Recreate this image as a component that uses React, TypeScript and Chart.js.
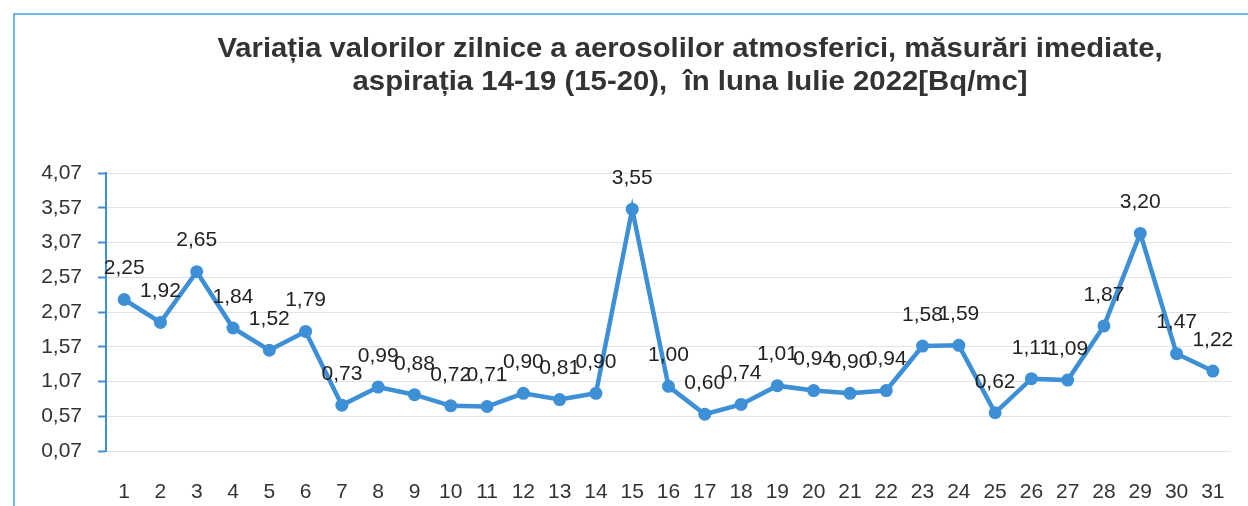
import React, { useEffect, useRef } from "react";
import { Chart, registerables } from "chart.js";

Chart.register(...registerables);

const titleLines = [
  "Variația valorilor zilnice a aerosolilor atmosferici, măsurări imediate,",
  "aspirația 14-19 (15-20),  în luna Iulie 2022[Bq/mc]",
];
const days = Array.from({ length: 31 }, (_, i) => String(i + 1));
const values = [
  2.25, 1.92, 2.65, 1.84, 1.52, 1.79, 0.73, 0.99, 0.88, 0.72, 0.71, 0.9, 0.81, 0.9, 3.55, 1.0,
  0.6, 0.74, 1.01, 0.94, 0.9, 0.94, 1.58, 1.59, 0.62, 1.11, 1.09, 1.87, 3.2, 1.47, 1.22,
];
const yMin = 0.07;
const yMax = 4.07;
const yStep = 0.5;

const fmt = (v: number) => v.toFixed(2).replace(".", ",");
const LINE_COLOR = "#3d8fd6";
const FONT = "'Liberation Sans', Arial, sans-serif";

const decorPlugin = {
  id: "decor",
  beforeDraw(chart: any) {
    const ctx = chart.ctx;
    ctx.save();
    ctx.fillStyle = "#ffffff";
    ctx.fillRect(0, 0, chart.width, chart.height);
    ctx.strokeStyle = "#3fa0e6";
    ctx.lineWidth = 1.5;
    ctx.beginPath();
    ctx.moveTo(14, chart.height);
    ctx.lineTo(14, 14);
    ctx.lineTo(chart.width, 14);
    ctx.stroke();
    ctx.restore();
  },
  afterDraw(chart: any) {
    const ctx = chart.ctx;
    ctx.save();
    ctx.fillStyle = "#333333";
    ctx.textAlign = "center";
    ctx.textBaseline = "alphabetic";
    const targets = [
      { y: 57, w: 945 },
      { y: 90, w: 675 },
    ];
    titleLines.forEach((t, i) => {
      ctx.font = `bold 28px 'Liberation Sans Narrow', 'Arial Narrow', ${FONT}`;
      const m = ctx.measureText(t).width;
      const sx = targets[i].w / m;
      ctx.save();
      ctx.translate(690, targets[i].y);
      ctx.scale(sx, 1);
      ctx.fillText(t, 0, 0);
      ctx.restore();
    });
    ctx.restore();
  },
  afterDatasetsDraw(chart: any) {
    const ctx = chart.ctx;
    const meta = chart.getDatasetMeta(0);
    ctx.save();
    ctx.font = `21px ${FONT}`;
    ctx.fillStyle = "#222222";
    ctx.textAlign = "center";
    ctx.textBaseline = "middle";
    meta.data.forEach((pt: any, i: number) => {
      ctx.fillText(fmt(values[i]), pt.x, pt.y - 31);
    });
    ctx.restore();
  },
};

export default function App() {
  const ref = useRef<HTMLCanvasElement | null>(null);
  useEffect(() => {
    if (!ref.current) return;
    const chart = new Chart(ref.current, {
      type: "line",
      data: {
        labels: days,
        datasets: [
          {
            data: values,
            borderColor: LINE_COLOR,
            backgroundColor: LINE_COLOR,
            borderWidth: 4.5,
            pointRadius: 6.5,
            pointBorderWidth: 0,
            pointBackgroundColor: LINE_COLOR,
            tension: 0,
          },
        ],
      },
      options: {
        responsive: false,
        animation: false,
        devicePixelRatio: 1,
        layout: { padding: { top: 173, right: 17, left: 0, bottom: 0 } },
        plugins: {
          legend: { display: false },
          title: { display: false },
          tooltip: { enabled: false },
        },
        scales: {
          x: {
            offset: true,
            grid: { display: false },
            border: { display: false },
            ticks: {
              color: "#333333",
              font: { family: FONT, size: 21 },
              padding: 21,
              maxRotation: 0,
              autoSkip: false,
            },
            afterFit(scale: any) {
              scale.height = 55;
            },
          },
          y: {
            min: yMin,
            max: yMax,
            grid: {
              color: "#e2e2e2",
              lineWidth: 1,
              drawTicks: true,
              tickLength: 8,
              tickColor: LINE_COLOR,
              tickWidth: 2,
            },
            border: { display: true, color: LINE_COLOR, width: 2 },
            ticks: {
              stepSize: yStep,
              color: "#333333",
              font: { family: FONT, size: 21 },
              padding: 16,
              callback: (v: any) => fmt(Number(v)),
            },
            afterBuildTicks(scale: any) {
              const t = [];
              for (let v = yMin; v <= yMax + 1e-9; v += yStep) t.push({ value: Math.round(v * 100) / 100 });
              scale.ticks = t;
            },
            afterFit(scale: any) {
              scale.width = 106;
            },
          },
        },
      },
      plugins: [decorPlugin],
    });
    return () => chart.destroy();
  }, []);
  return (
    <div style={{ position: "absolute", left: 0, top: 0, width: 1248, height: 506 }}>
      <canvas ref={ref} width={1248} height={506} style={{ display: "block" }} />
    </div>
  );
}
